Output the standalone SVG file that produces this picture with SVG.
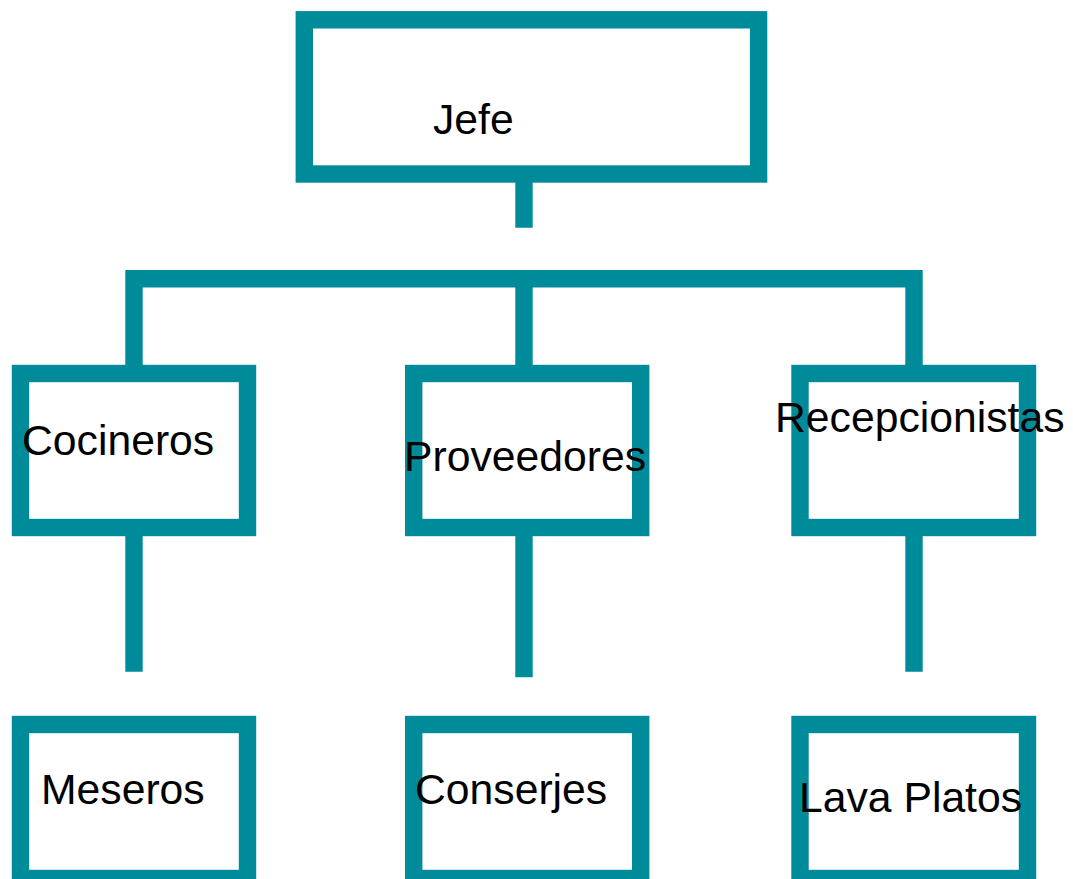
<svg xmlns="http://www.w3.org/2000/svg" width="1073" height="879" viewBox="0 0 1073 879">
  <style>
    .box { fill: #ffffff; stroke: #008b9b; stroke-width: 17.4; }
    .conn { fill: none; stroke: #008b9b; stroke-width: 17.4; stroke-linejoin: miter; stroke-linecap: butt; }
    .lbl { font-family: "Liberation Sans", Arial, sans-serif; font-size: 42.7px; fill: #000000; }
  </style>
  <rect width="1073" height="879" fill="#ffffff"/>
  <g id="connectors">
    <path class="conn" d="M524,174 V227.7"/>
    <path class="conn" d="M134,373 V278.8 H914 V373"/>
    <path class="conn" d="M524,278.8 V373"/>
    <path class="conn" d="M134,527 V671.7"/>
    <path class="conn" d="M524,527 V677.3"/>
    <path class="conn" d="M914,527 V671.7"/>
  </g>
  <g id="jefe">
    <rect class="box" x="304.3" y="19.8" width="454.3" height="154.2"/>
    <text class="lbl" x="433" y="134">Jefe</text>
  </g>
  <g id="cocineros">
    <rect class="box" x="20.5" y="373.5" width="227" height="154"/>
    <text class="lbl" x="22" y="455">Cocineros</text>
  </g>
  <g id="proveedores">
    <rect class="box" x="413.7" y="373.5" width="227" height="154"/>
    <text class="lbl" x="404" y="471">Proveedores</text>
  </g>
  <g id="recepcionistas">
    <rect class="box" x="800" y="373.5" width="227.5" height="154"/>
    <text class="lbl" x="775" y="432">Recepcionistas</text>
  </g>
  <g id="meseros">
    <rect class="box" x="20.5" y="724.5" width="227" height="154"/>
    <text class="lbl" x="41" y="804">Meseros</text>
  </g>
  <g id="conserjes">
    <rect class="box" x="413.7" y="724.5" width="227" height="154"/>
    <text class="lbl" x="415" y="804">Conserjes</text>
  </g>
  <g id="lava-platos">
    <rect class="box" x="800" y="724.5" width="227.5" height="154"/>
    <text class="lbl" x="799" y="812">Lava Platos</text>
  </g>
</svg>
